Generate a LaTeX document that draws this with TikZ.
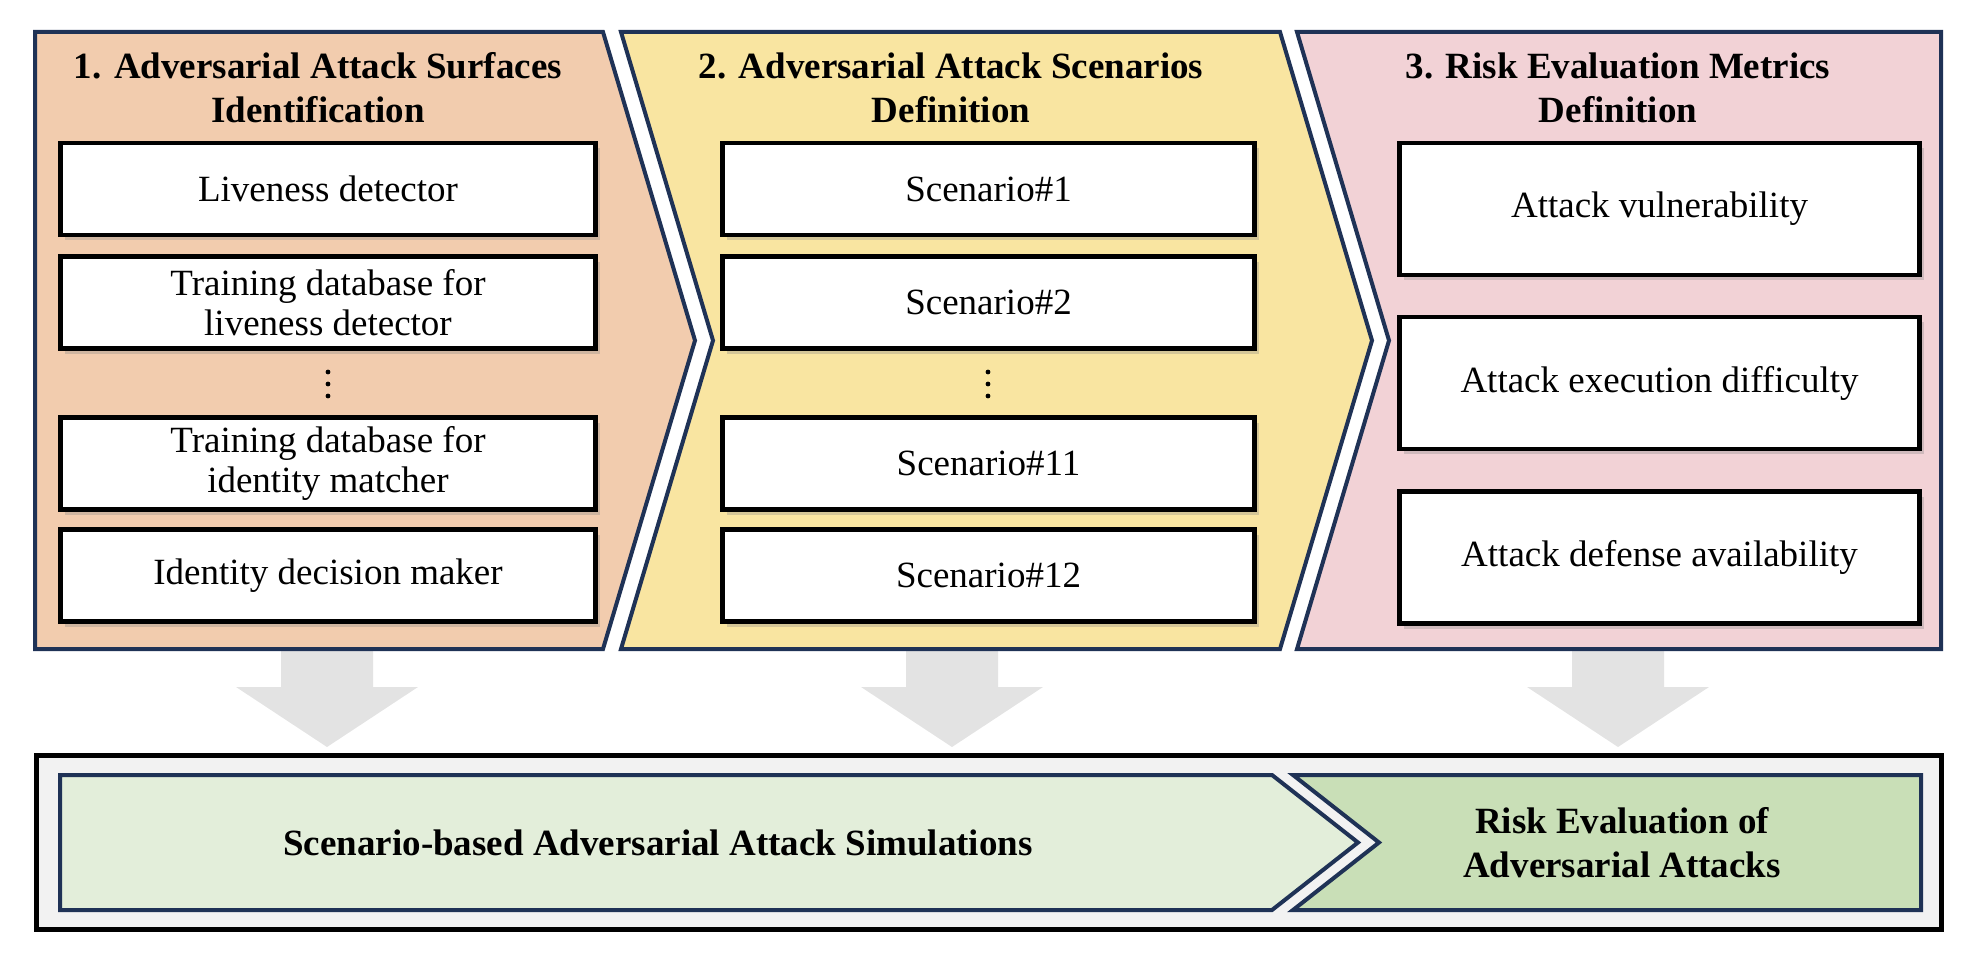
\documentclass[tikz,border=0pt]{standalone}
\usepackage{fontspec}
\setmainfont{Liberation Serif}
\usetikzlibrary{shadows}
\definecolor{navy}{HTML}{1F3256}
\definecolor{peach}{HTML}{F2CCAE}
\definecolor{sand}{HTML}{F9E5A1}
\definecolor{rose}{HTML}{F2D2D6}
\definecolor{sage}{HTML}{E3EEDA}
\definecolor{moss}{HTML}{C9DFB7}
\definecolor{fog}{HTML}{F2F2F2}
\definecolor{ash}{HTML}{E3E3E3}
\begin{document}
\begin{tikzpicture}[x=1pt,y=-1pt,
   panel/.style={draw=navy,line width=4pt},
   head/.style={font=\fontsize{37}{44}\selectfont\bfseries,align=center,inner sep=0pt},
   item/.style={draw=black,line width=4.5pt,fill=white,align=center,inner sep=0pt,
      font=\fontsize{37}{40}\selectfont,
      drop shadow={shadow xshift=4pt,shadow yshift=-5pt,opacity=0.3}},
   leftcol/.style={item,minimum width=535pt,minimum height=92pt},
   midcol/.style={item,minimum width=532pt,minimum height=92pt},
   rightcol/.style={item,minimum width=520pt,minimum height=132pt}]
\useasboundingbox (0,0) rectangle (1978,960);
   \foreach \ax in {327,952,1618}
      \fill[ash] (\ax-46,640) -- (\ax+46,640) -- (\ax+46,687) -- (\ax+91,687) -- (\ax,747) -- (\ax-91,687) -- (\ax-46,687) -- cycle;
   \draw[panel,fill=peach] (35,32) -- (603,32) -- (695,340.5) -- (603,649) -- (35,649) -- cycle;
   \draw[panel,fill=sand] (621,32) -- (1280,32) -- (1372,340.5) -- (1280,649) -- (621,649) -- (713,340.5) -- cycle;
   \draw[panel,fill=rose] (1297,32) -- (1941,32) -- (1941,649) -- (1297,649) -- (1389,340.5) -- cycle;
   \node[head] (t1) at (318,88) {1. Adversarial Attack Surfaces\\Identification};
   \node[head] (t2) at (951,88) {2. Adversarial Attack Scenarios\\Definition};
   \node[head] (t3) at (1618,88) {3. Risk Evaluation Metrics\\Definition};
   \node[leftcol] (live) at (328,189) {Liveness detector};
   \node[leftcol] (livedb) at (328,302.5) {Training database for\\liveness detector};
   \node[leftcol] (matchdb) at (328,463.5) {Training database for\\identity matcher};
   \node[leftcol] (decide) at (328,575.5) {Identity decision maker};
   \node[midcol] (sc1) at (988.5,189) {Scenario\#1};
   \node[midcol] (sc2) at (988.5,302.5) {Scenario\#2};
   \node[midcol] (sc11) at (988.5,463.5) {Scenario\#11};
   \node[midcol] (sc12) at (988.5,575.5) {Scenario\#12};
   \node[rightcol] (vuln) at (1659.5,209) {Attack vulnerability};
   \node[rightcol] (diff) at (1659.5,383) {Attack execution difficulty};
   \node[rightcol] (avail) at (1659.5,557.5) {Attack defense availability};
   \foreach \dx in {328,988}
      \foreach \dy in {372,384,396}
         \fill (\dx,\dy) circle (2.4pt);
   \draw[line width=5pt,fill=fog] (36.5,755.5) rectangle (1941.5,929.5);
   \draw[panel,fill=sage] (60,775) -- (1272,775) -- (1358,842.5) -- (1272,910) -- (60,910) -- cycle;
   \draw[panel,fill=moss] (1293,775) -- (1921,775) -- (1921,910) -- (1293,910) -- (1379,842.5) -- cycle;
   \node[head] (sim) at (658,843) {Scenario-based Adversarial Attack Simulations};
   \node[head] (risk) at (1622,843) {Risk Evaluation of\\Adversarial Attacks};
\end{tikzpicture}
\end{document}
